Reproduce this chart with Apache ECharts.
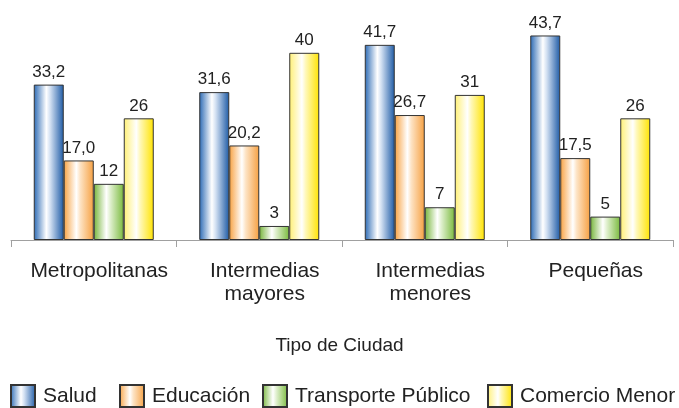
<!DOCTYPE html>
<html>
<head>
<meta charset="utf-8">
<script src="https://cdn.jsdelivr.net/npm/echarts@6/dist/echarts.min.js"></script>
<style>
  html, body { margin: 0; padding: 0; background: #ffffff; }
  #chart { width: 679px; height: 408px; }
</style>
</head>
<body>
<div id="chart"></div>
<script>
// Tipo de ciudad (eje de categorías)
const categories = ['Metropolitanas', 'Intermedias\nmayores', 'Intermedias\nmenores', 'Pequeñas'];

// Valores por rubro
const salud = [33.2, 31.6, 41.7, 43.7];
const educacion = [17.0, 20.2, 26.7, 17.5];
const transporte = [12, 3, 7, 5];
const comercio = [26, 40, 31, 26];

const seriesNames = ['Salud', 'Educación', 'Transporte Público', 'Comercio Menor'];
const axisTitle = 'Tipo de Ciudad';

const FONT = '"Liberation Sans", Arial, Helvetica, sans-serif';

// Relleno con degradado horizontal (bordes saturados, centro claro)
function grad(left, mid, right) {
  return {
    type: 'linear', x: 0, y: 0, x2: 1, y2: 0,
    colorStops: [
      { offset: 0, color: left },
      { offset: 0.42, color: '#ffffff' },
      { offset: 0.55, color: mid },
      { offset: 1, color: right }
    ]
  };
}

const fills = [
  grad('#2a69b4', '#d2e0f2', '#1d5aa5'),
  grad('#f8a242', '#fde3c4', '#f6a041'),
  grad('#76b53a', '#e0f0cf', '#7aba3e'),
  grad('#fff074', '#fff8b8', '#ffe300')
];

function commaFmt(decimals) {
  return function (p) {
    return decimals > 0 ? p.value.toFixed(decimals).replace('.', ',') : String(p.value);
  };
}

const seriesData = [salud, educacion, transporte, comercio];
const decimals = [1, 1, 0, 0];

const series = seriesData.map(function (d, i) {
  return {
    name: seriesNames[i],
    type: 'bar',
    data: d,
    barWidth: 30,
    barGap: '0%',
    itemStyle: { color: fills[i], borderColor: '#333333', borderWidth: 1 },
    label: {
      show: true,
      position: 'top',
      distance: 4,
      formatter: commaFmt(decimals[i]),
      fontFamily: FONT,
      fontSize: 17,
      color: '#222222'
    }
  };
});

// Leyenda: una por serie para fijar la posición de cada entrada
const legendLeft = [10, 119, 262, 487];
const legends = seriesNames.map(function (n, i) {
  return {
    data: [n],
    left: legendLeft[i],
    top: 384,
    padding: 0,
    itemWidth: 24,
    itemHeight: 22,
    itemGap: 0,
    icon: 'rect',
    textStyle: { fontFamily: FONT, fontSize: 21, color: '#222222', padding: [0, 0, 0, 3] }
  };
});

const chart = echarts.init(document.getElementById('chart'), null, { renderer: 'canvas' });
chart.setOption({
  animation: false,
  backgroundColor: '#ffffff',
  grid: { left: 11, right: 6, top: 6, bottom: 168, containLabel: false },
  title: {
    text: axisTitle,
    left: 'center',
    top: 331,
    textStyle: { fontFamily: FONT, fontSize: 19, fontWeight: 'normal', color: '#222222' }
  },
  legend: legends,
  xAxis: {
    type: 'category',
    data: categories,
    axisLine: { show: true, lineStyle: { color: '#a0a0a0', width: 1 } },
    axisTick: { show: true, alignWithLabel: false, length: 7, lineStyle: { color: '#a0a0a0' } },
    axisLabel: {
      margin: 20,
      interval: 0,
      fontFamily: FONT,
      fontSize: 21,
      lineHeight: 23,
      padding: [0, 0, 0, 11],
      color: '#222222'
    }
  },
  yAxis: {
    type: 'value',
    min: 0,
    max: 50,
    show: false,
    splitLine: { show: false }
  },
  series: series
});
</script>
</body>
</html>
